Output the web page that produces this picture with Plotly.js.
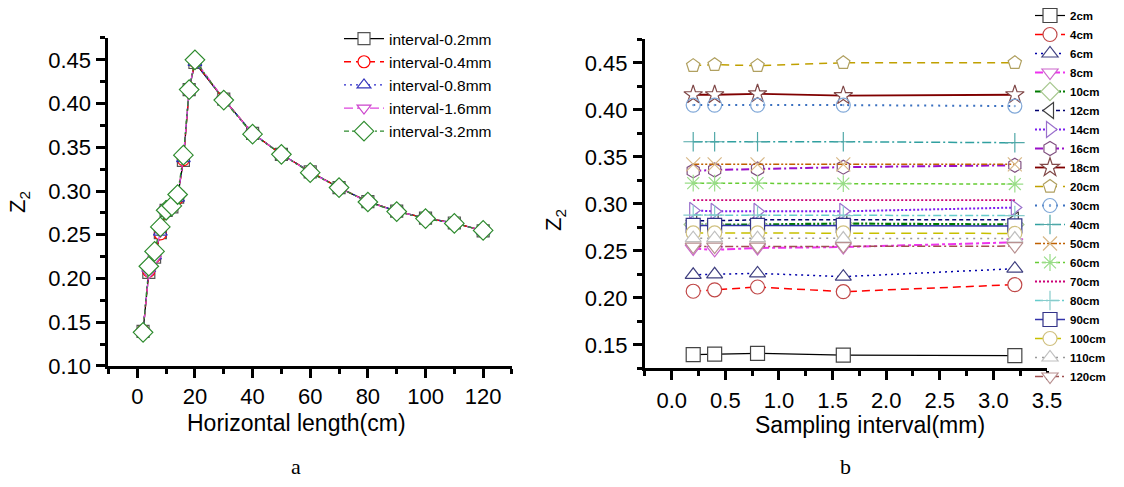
<!DOCTYPE html>
<html>
<head>
<meta charset="utf-8">
<script src="https://cdn.plot.ly/plotly-3.0.1.min.js"></script>
<style>html,body{margin:0;padding:0;background:#fff;}#chart{width:1124px;height:487px;}</style>
</head>
<body>
<div id="chart"></div>
<script>
// Horizontal lengths (cm) and sampling intervals (mm)
const distances = [2, 4, 6, 8, 10, 12, 14, 16, 18, 20, 30, 40, 50, 60, 70, 80, 90, 100, 110, 120];
const intervals = [0.2, 0.4, 0.8, 1.6, 3.2];
const intervalLabels = ['interval-0.2mm', 'interval-0.4mm', 'interval-0.8mm', 'interval-1.6mm', 'interval-3.2mm'];
const distanceLabels = ['2cm','4cm','6cm','8cm','10cm','12cm','14cm','16cm','18cm','20cm','30cm','40cm','50cm','60cm','70cm','80cm','90cm','100cm','110cm','120cm'];

// Z2 values per sampling interval, one value per distance
const z2_int02 = [0.1395, 0.207, 0.2245, 0.2525, 0.278, 0.282, 0.293, 0.335, 0.416, 0.447, 0.405, 0.366, 0.342, 0.322, 0.304, 0.288, 0.277, 0.269, 0.2635, 0.2545];
const z2_int04 = [0.140, 0.2085, 0.225, 0.251, 0.278, 0.282, 0.292, 0.336, 0.416, 0.448, 0.405, 0.366, 0.342, 0.322, 0.304, 0.288, 0.277, 0.269, 0.2635, 0.2545];
const z2_int08 = [0.141, 0.2115, 0.226, 0.253, 0.278, 0.283, 0.292, 0.337, 0.417, 0.447, 0.405, 0.366, 0.342, 0.322, 0.304, 0.288, 0.277, 0.269, 0.2635, 0.2545];
const z2_int16 = [0.139, 0.2065, 0.2225, 0.254, 0.279, 0.283, 0.292, 0.339, 0.415, 0.450, 0.405, 0.366, 0.342, 0.3215, 0.304, 0.2875, 0.277, 0.269, 0.263, 0.255];
const z2_int32 = [0.1385, 0.214, 0.231, 0.259, 0.278, 0.283, 0.296, 0.341, 0.416, 0.450, 0.404, 0.365, 0.342, 0.321, 0.304, 0.2875, 0.2765, 0.2685, 0.263, 0.255];
const z2ByInterval = [z2_int02, z2_int04, z2_int08, z2_int16, z2_int32];

// Styles
const leftStyles = [
  {line:'#000000', dash:'solid', sym:'square', mc:'#555555', size:12},
  {line:'#ff0000', dash:'7px,5px', sym:'circle', mc:'#ff0000', size:12},
  {line:'#2b2bcc', dash:'2px,4px', sym:'triangle-up', mc:'#3333bb', size:12},
  {line:'#dd44dd', dash:'9px,4px', sym:'triangle-down', mc:'#cc44cc', size:12},
  {line:'#2e8b2e', dash:'5px,3px,2px,3px,2px,3px', sym:'diamond', mc:'#2e8b2e', size:15}
];
const rightStyles = [
  {line:'#000000', dash:'solid', w:1.2, sym:'square', mc:'#444444'},
  {line:'#ff0000', dash:'8px,5px', w:1.5, sym:'circle', mc:'#c04848'},
  {line:'#0000aa', dash:'2px,4px', w:1.5, sym:'triangle-up', mc:'#404080'},
  {line:'#ee33ee', dash:'8px,3px,3px,3px', w:2, sym:'triangle-down', mc:'#cc66cc'},
  {line:'#007a00', dash:'6px,2px,2px,2px,2px,2px', w:2.2, sym:'diamond', mc:'#a8c890'},
  {line:'#000070', dash:'4px,3px', w:1.5, sym:'triangle-left', mc:'#404040'},
  {line:'#7a1cf0', dash:'2px,2px', w:2, sym:'triangle-right', mc:'#9a70cc'},
  {line:'#9a10c8', dash:'8px,3px,2px,3px', w:2, sym:'hexagon', mc:'#805080'},
  {line:'#800000', dash:'solid', w:1.8, sym:'star', mc:'#804848'},
  {line:'#c0a000', dash:'8px,6px', w:1.5, sym:'pentagon', mc:'#b0a060'},
  {line:'#3a70c0', dash:'2px,5px', w:2, sym:'circle-open-dot', mc:'#80a8d8'},
  {line:'#30a0a0', dash:'9px,3px,2px,3px', w:1.5, sym:'cross-thin-open', mc:'#50a8a8'},
  {line:'#c06000', dash:'6px,2px,2px,2px,2px,2px', w:1.5, sym:'x-thin-open', mc:'#d8b888'},
  {line:'#66cc33', dash:'4px,3px', w:1.5, sym:'asterisk-open', mc:'#99dd88'},
  {line:'#cc0077', dash:'2px,2px', w:1.8, sym:null, mc:'#cc0077'},
  {line:'#66cccc', dash:'8px,3px,2px,3px', w:1.5, sym:'cross-thin-open', mc:'#88cccc'},
  {line:'#3333aa', dash:'solid', w:1.5, sym:'square', mc:'#333388'},
  {line:'#c8c000', dash:'10px,6px', w:1.5, sym:'circle', mc:'#d0c080'},
  {line:'#999999', dash:'2px,5px', w:1.5, sym:'triangle-up', mc:'#c0c0c0'},
  {line:'#a05050', dash:'8px,3px,2px,3px', w:1.5, sym:'triangle-down', mc:'#b89090'}
];

const traces = [];
// Left panel: Z2 vs horizontal length, one series per interval
intervalLabels.forEach((name, k) => {
  const s = leftStyles[k];
  traces.push({
    type:'scatter', mode:'lines+markers', name: name,
    x: distances, y: z2ByInterval[k],
    xaxis:'x', yaxis:'y', legend:'legend',
    line:{color:s.line, width:1.3, dash:s.dash},
    marker:{symbol:s.sym, size:s.size, color:'#ffffff', line:{color:s.mc, width:1.2}}
  });
});
// Right panel: Z2 vs sampling interval, one series per distance
distanceLabels.forEach((name, i) => {
  const s = rightStyles[i];
  const ys = z2ByInterval.map(arr => arr[i]);
  const open = s.sym && s.sym.indexOf('open') >= 0;
  const t = {
    type:'scatter', mode: s.sym ? 'lines+markers' : 'lines', name: name,
    x: intervals, y: ys,
    xaxis:'x2', yaxis:'y2', legend:'legend2',
    line:{color:s.line, width:s.w, dash:s.dash}
  };
  if (s.sym) {
    t.marker = open
      ? {symbol:s.sym, size:14, color:s.mc, line:{color:s.mc, width:1.2}}
      : {symbol:s.sym, size:14, color:'#ffffff', line:{color:s.mc, width:1.2}};
  }
  traces.push(t);
});

const FONT = 'Liberation Sans, Arial, sans-serif';
const SERIF = 'Liberation Serif, Times New Roman, serif';
const axisCommon = {
  showline:true, linewidth:3, linecolor:'#000', mirror:false,
  ticks:'outside', ticklen:9, tickwidth:3, tickcolor:'#000',
  showgrid:false, zeroline:false, fixedrange:true,
  tickfont:{family:FONT, size:22, color:'#000'}
};

const layout = {
  width:1124, height:487,
  margin:{l:0, r:0, t:0, b:0},
  paper_bgcolor:'#fff', plot_bgcolor:'#fff',
  font:{family:FONT, color:'#000'},
  xaxis: Object.assign({}, axisCommon, {
    domain:[0.0965, 0.4555], anchor:'y', range:[-10, 130],
    tick0:0, dtick:20, ticklabelstandoff:0,
    minor:{ticks:'outside', ticklen:5, tickwidth:3, tickcolor:'#000', dtick:10, tick0:0}
  }),
  yaxis: Object.assign({}, axisCommon, {
    domain:[0.2485, 0.922], anchor:'x', range:[0.10, 0.475],
    tick0:0, dtick:0.05, tickformat:'.2f', ticklabelstandoff:1,
    minor:{ticks:'outside', ticklen:5, tickwidth:3, tickcolor:'#000', dtick:0.025, tick0:0}
  }),
  xaxis2: Object.assign({}, axisCommon, {
    domain:[0.5738, 0.9315], anchor:'y2', range:[-0.25, 3.5],
    tick0:0, dtick:0.5, tickformat:'.1f', ticklabelstandoff:1,
    minor:{ticks:'outside', ticklen:5, tickwidth:3, tickcolor:'#000', dtick:0.25, tick0:0}
  }),
  yaxis2: Object.assign({}, axisCommon, {
    domain:[0.2437, 0.9193], anchor:'x2', range:[0.125, 0.475],
    tick0:0, dtick:0.05, tickformat:'.2f', ticklabelstandoff:1,
    minor:{ticks:'outside', ticklen:5, tickwidth:3, tickcolor:'#000', dtick:0.025, tick0:0}
  }),
  legend:{
    x:339/1124, y:1-22/487, xanchor:'left', yanchor:'top',
    bgcolor:'rgba(0,0,0,0)', borderwidth:0, itemwidth:40,
    font:{family:FONT, size:15.5, color:'#000'}, traceorder:'normal'
  },
  legend2:{
    x:1030/1124, y:1-1/487, xanchor:'left', yanchor:'top',
    bgcolor:'rgba(0,0,0,0)', borderwidth:0, itemwidth:30,
    font:{family:FONT, size:11.5, color:'#000', weight:'bold'}, traceorder:'normal'
  },
  showlegend:true,
  annotations:[
    {text:'Horizontal length(cm)', xref:'paper', yref:'paper', x:296/1124, y:1-423/487,
     xanchor:'center', yanchor:'middle', showarrow:false, font:{family:FONT, size:23, color:'#000'}},
    {text:'Sampling interval(mm)', xref:'paper', yref:'paper', x:870/1124, y:1-425/487,
     xanchor:'center', yanchor:'middle', showarrow:false, font:{family:FONT, size:23, color:'#000'}},
    {text:'Z<sub>2</sub>', xref:'paper', yref:'paper', x:19/1124, y:1-202/487, textangle:-90,
     xanchor:'center', yanchor:'middle', showarrow:false, font:{family:FONT, size:22, color:'#000'}},
    {text:'Z<sub>2</sub>', xref:'paper', yref:'paper', x:555/1124, y:1-220/487, textangle:-90,
     xanchor:'center', yanchor:'middle', showarrow:false, font:{family:FONT, size:22, color:'#000'}},
    {text:'a', xref:'paper', yref:'paper', x:296/1124, y:1-466/487, xanchor:'center', yanchor:'middle',
     showarrow:false, font:{family:SERIF, size:22, color:'#000'}},
    {text:'b', xref:'paper', yref:'paper', x:845/1124, y:1-466/487, xanchor:'center', yanchor:'middle',
     showarrow:false, font:{family:SERIF, size:22, color:'#000'}}
  ]
};

Plotly.newPlot('chart', traces, layout, {displayModeBar:false, staticPlot:true});
</script>
</body>
</html>
